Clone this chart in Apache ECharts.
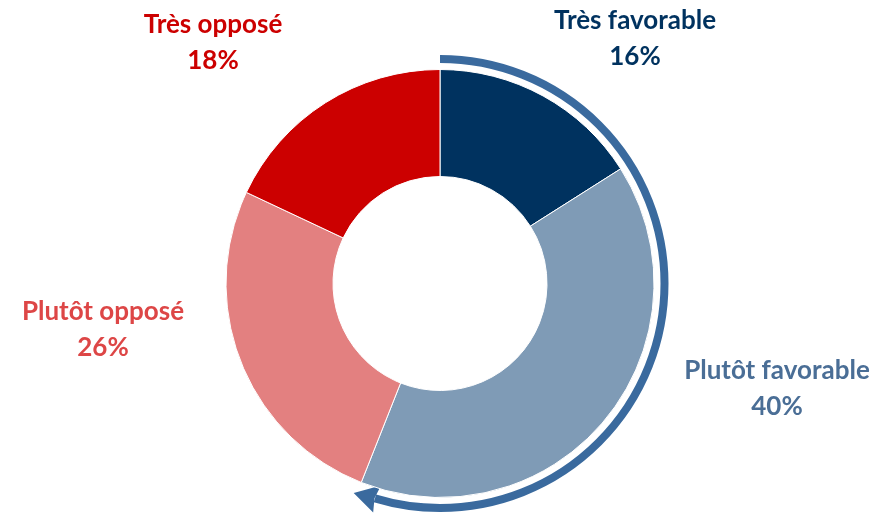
<!DOCTYPE html>
<html><head><meta charset="utf-8">
<script src="https://cdn.jsdelivr.net/npm/echarts@6/dist/echarts.min.js"></script>
<style>html,body{margin:0;padding:0;background:#fff}#c{width:894px;height:516px}</style>
</head><body><div id="c"></div>
<script>
const categories = ['Très favorable', 'Plutôt favorable', 'Plutôt opposé', 'Très opposé'];
const values = [16, 40, 26, 18];
const favorableCategories = ['Très favorable', 'Plutôt favorable'];

const sliceColors = ['#00325f', '#7f9bb6', '#e38080', '#cc0000'];
const labelColors = ['#00325f', '#4a6e96', '#dd4646', '#cc0000'];
const labelPos = [[635, 39], [777, 389], [103, 330], [213, 43]];

const CX = 440, CY = 283.5;
const chart = echarts.init(document.getElementById('c'));

const total = values.reduce((a, b) => a + b, 0);
const favShare = categories.reduce((s, c, i) => s + (favorableCategories.includes(c) ? values[i] : 0), 0) / total;

const R = 224.5;
const start = -Math.PI / 2;
const tipA = start + favShare * 2 * Math.PI + 0.8 * Math.PI / 180;
const headLen = 24 / R;
const baseA = tipA - headLen;
const hw = 14;
function pt(a, r) { return [CX + r * Math.cos(a), CY + r * Math.sin(a)]; }
const arrowColor = '#3a6a9e';

chart.setOption({
  animation: false,
  series: [{
    type: 'pie',
    center: [CX, CY],
    radius: [107, 214],
    startAngle: 90,
    clockwise: true,
    silent: true,
    itemStyle: { borderColor: '#fff', borderWidth: 1 },
    label: {
      show: true,
      position: 'outside',
      formatter: p => p.name + '\n' + Math.round(p.percent) + '%',
      fontFamily: 'Lato',
      fontWeight: 'bold',
      fontSize: 26,
      lineHeight: 36,
      align: 'center'
    },
    labelLine: { show: false },
    labelLayout: p => ({
      x: labelPos[p.dataIndex][0],
      y: labelPos[p.dataIndex][1],
      align: 'center',
      verticalAlign: 'middle'
    }),
    data: categories.map((c, i) => ({
      name: c, value: values[i],
      itemStyle: { color: sliceColors[i] },
      label: { color: labelColors[i] }
    }))
  }],
  graphic: [
    {
      type: 'arc',
      shape: { cx: CX, cy: CY, r: R, startAngle: start, endAngle: baseA + 0.01, clockwise: true },
      style: { stroke: arrowColor, lineWidth: 8, fill: null }
    },
    {
      type: 'polygon',
      shape: { points: [pt(tipA, R + 2), pt(baseA, R - hw), pt(baseA + 0.012, R), pt(baseA, R + hw)] },
      style: { fill: arrowColor }
    }
  ]
});
</script></body></html>
